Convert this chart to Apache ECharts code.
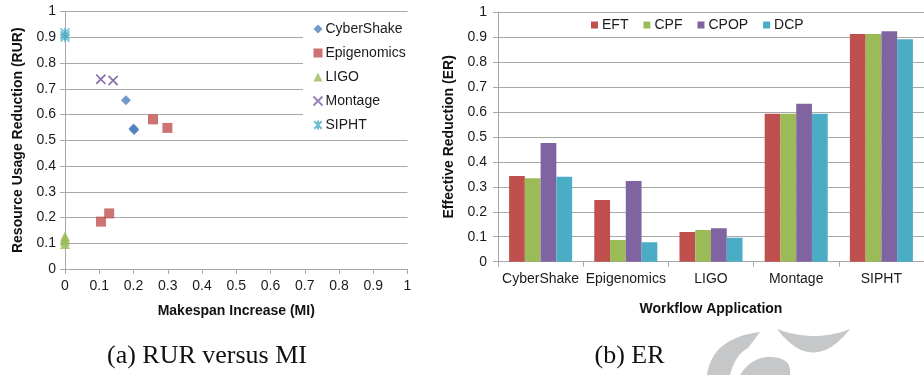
<!DOCTYPE html>
<html>
<head>
<meta charset="utf-8">
<script src="https://cdn.jsdelivr.net/npm/echarts@6/dist/echarts.min.js"></script>
<style>
html,body{margin:0;padding:0;background:#fff;}
#c{width:924px;height:375px;}
</style>
</head>
<body>
<div id="c"></div>
<script>
// ---- Data: (a) RUR versus MI ----
const scatterNames = ['CyberShake', 'Epigenomics', 'LIGO', 'Montage', 'SIPHT'];
const cyberShakePts = [[0.178, 0.655], [0.200, 0.546], [0.202, 0.540], [0.201, 0.543]];
const epigenomicsPts = [[0.257, 0.581], [0.299, 0.548], [0.105, 0.184], [0.129, 0.216]];
const ligoPts = [[0, 0.097], [0, 0.110], [0, 0.118], [0, 0.127]];
const montagePts = [[0.104, 0.738], [0.141, 0.733], [0.140, 0.731], [0.105, 0.736]];
const siphtPts = [[0, 0.897], [0, 0.905], [0, 0.912], [0, 0.920]];

// ---- Data: (b) ER ----
const workflows = ['CyberShake', 'Epigenomics', 'LIGO', 'Montage', 'SIPHT'];
const algorithms = ['EFT', 'CPF', 'CPOP', 'DCP'];
const eftVals = [0.343, 0.247, 0.119, 0.593, 0.912];
const cpfVals = [0.334, 0.087, 0.127, 0.593, 0.912];
const cpopVals = [0.475, 0.323, 0.134, 0.633, 0.923];
const dcpVals = [0.340, 0.078, 0.096, 0.593, 0.891];

const C_BLUE = '#4F81BD', C_RED = '#C0504D', C_GREEN = '#9BBB59', C_PURPLE = '#8064A2', C_CYAN = '#4BACC6';
const gridColor = '#a8a8a8';
const font = 'Liberation Sans, Arial, sans-serif';
const labelStyle = { fontFamily: font, fontSize: 14, color: '#1a1a1a' };
const nameStyle = { fontFamily: font, fontSize: 14, fontWeight: 'bold', color: '#111' };
const fmt = v => String(+(+v).toFixed(1));

// decorative watermark outline helper (quadratic curve sampling)
function quad(p0, c, p1, n) {
  const out = [];
  for (let i = 0; i <= n; i++) {
    const t = i / n, u = 1 - t;
    out.push([u * u * p0[0] + 2 * u * t * c[0] + t * t * p1[0], u * u * p0[1] + 2 * u * t * c[1] + t * t * p1[1]]);
  }
  return out;
}
const wm1 = quad([777, 329], [813, 376], [850, 329], 24).concat(quad([850, 329], [815, 343], [777, 329], 24));
const wm2 = quad([707, 375], [712, 338], [760, 332], 24).concat([[748, 348]], quad([748, 348], [735, 355], [730, 375], 16));
const wm3 = quad([740, 375], [752, 356], [772, 357], 16).concat(quad([772, 357], [792, 358], [790, 375], 16));

const chart = echarts.init(document.getElementById('c'), null, { renderer: 'canvas' });

const scatterSeries = [
  { name: 'CyberShake', data: cyberShakePts, symbol: 'diamond', symbolSize: 10, itemStyle: { color: C_BLUE } },
  { name: 'Epigenomics', data: epigenomicsPts, symbol: 'rect', symbolSize: 10, itemStyle: { color: C_RED } },
  { name: 'LIGO', data: ligoPts, symbol: 'triangle', symbolSize: 10, itemStyle: { color: C_GREEN } },
  { name: 'Montage', data: montagePts, symbol: 'path://M0,0L10,10M10,0L0,10', symbolSize: 9,
    itemStyle: { color: 'none', borderColor: C_PURPLE, borderWidth: 1.3 } },
  { name: 'SIPHT', data: siphtPts, symbol: 'path://M0,0L10,10M10,0L0,10M5,-1L5,11', symbolSize: 9,
    itemStyle: { color: 'none', borderColor: C_CYAN, borderWidth: 1.3 } }
].map(s => Object.assign({ type: 'scatter', xAxisIndex: 0, yAxisIndex: 0, z: 3 }, s));

const barColors = [C_RED, C_GREEN, C_PURPLE, C_CYAN];
const barData = [eftVals, cpfVals, cpopVals, dcpVals];
const barSeries = algorithms.map((a, i) => ({
  type: 'bar', name: a, xAxisIndex: 1, yAxisIndex: 1, data: barData[i],
  barGap: '0%', barCategoryGap: '26%', itemStyle: { color: barColors[i] }
}));

const axisLine = { show: true, lineStyle: { color: gridColor, width: 1 } };
const axisTick = { show: true, length: 5, lineStyle: { color: gridColor } };
const splitLine = { show: true, lineStyle: { color: gridColor, width: 1 } };

const option = {
  animation: false,
  backgroundColor: '#fff',
  grid: [
    { left: 65, top: 11.5, width: 342.5, height: 257.5 },
    { left: 498, top: 12, width: 433, height: 249.7 }
  ],
  xAxis: [
    { type: 'value', gridIndex: 0, min: 0, max: 1, interval: 0.1,
      axisLine, axisTick, splitLine: { show: false },
      axisLabel: Object.assign({ margin: 10, formatter: fmt }, labelStyle),
      name: 'Makespan Increase (MI)', nameLocation: 'middle', nameGap: 35, nameTextStyle: nameStyle },
    { type: 'category', gridIndex: 1, data: workflows,
      axisLine, axisTick: { show: true, interval: 0, length: 5, lineStyle: { color: gridColor } },
      axisLabel: Object.assign({ margin: 10, interval: 0 }, labelStyle),
      name: 'Workflow Application', nameLocation: 'middle', nameGap: 40, nameTextStyle: nameStyle }
  ],
  yAxis: [
    { type: 'value', gridIndex: 0, min: 0, max: 1, interval: 0.1,
      axisLine, axisTick, splitLine,
      axisLabel: Object.assign({ margin: 9, formatter: fmt }, labelStyle),
      name: 'Resource Usage Reduction (RUR)', nameLocation: 'middle', nameGap: 40, nameRotate: 90, nameTextStyle: nameStyle },
    { type: 'value', gridIndex: 1, min: 0, max: 1, interval: 0.1,
      axisLine, axisTick, splitLine,
      axisLabel: Object.assign({ margin: 11, formatter: fmt }, labelStyle),
      name: 'Effective Reduction (ER)', nameLocation: 'middle', nameGap: 42, nameRotate: 90, nameTextStyle: nameStyle }
  ],
  legend: [
    { data: scatterNames, orient: 'vertical', left: 303, top: 16,
      padding: [6, 8, 6, 8], backgroundColor: '#fff',
      itemWidth: 9, itemHeight: 9, itemGap: 10,
      textStyle: Object.assign({ padding: [0, 0, 0, -2] }, labelStyle), z: 2 },
    { data: algorithms, orient: 'horizontal', left: 591, top: 18, padding: 0,
      itemWidth: 7, itemHeight: 7, itemGap: 15, icon: 'rect',
      textStyle: Object.assign({ padding: [0, 0, 0, -1] }, labelStyle) }
  ],
  series: scatterSeries.concat(barSeries),
  graphic: [
    { type: 'polygon', shape: { points: wm1 }, style: { fill: '#c6c7c8' }, silent: true },
    { type: 'polygon', shape: { points: wm2 }, style: { fill: '#c6c7c8' }, silent: true },
    { type: 'polygon', shape: { points: wm3 }, style: { fill: '#c6c7c8' }, silent: true },
    { type: 'text', x: 207, y: 356,
      style: { text: '(a) RUR versus MI', font: '26px "Liberation Serif", serif', fill: '#111',
        textAlign: 'center', textVerticalAlign: 'middle' } },
    { type: 'text', x: 629.5, y: 356,
      style: { text: '(b) ER', font: '26px "Liberation Serif", serif', fill: '#111',
        textAlign: 'center', textVerticalAlign: 'middle' } }
  ]
};
chart.setOption(option);
</script>
</body>
</html>
